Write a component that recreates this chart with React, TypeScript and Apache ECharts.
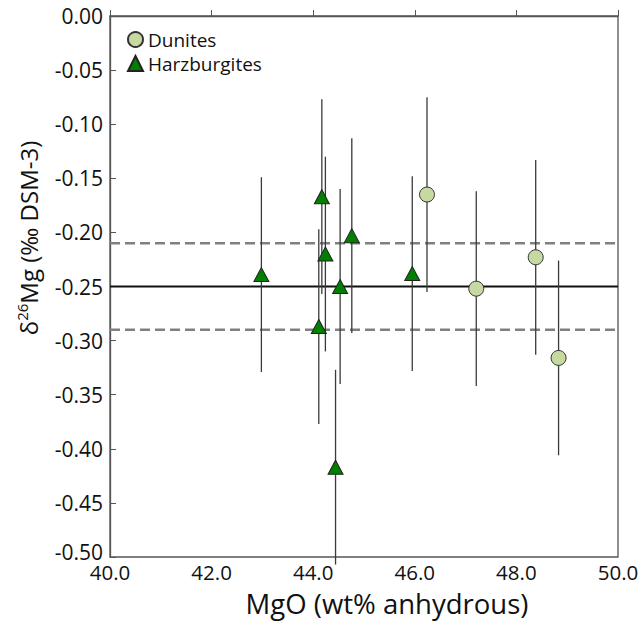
import React, { useEffect, useRef } from "react";
import * as echarts from "echarts";

const dunMgO = [46.24, 47.21, 48.38, 48.83];
const dunD26 = [-0.165, -0.252, -0.223, -0.316];
const dunErr = [0.09, 0.09, 0.09, 0.09];

const harzMgO = [42.98, 44.17, 44.24, 44.11, 44.53, 44.76, 44.44, 45.95];
const harzD26 = [-0.239, -0.167, -0.22, -0.287, -0.25, -0.203, -0.417, -0.238];
const harzErr = [0.09, 0.09, 0.09, 0.09, 0.09, 0.09, 0.09, 0.09];

const meanD26 = -0.25;
const upperD26 = -0.21;
const lowerD26 = -0.29;
const xRange = [40, 50];

const FONT = "'Open Sans', 'Noto Sans', sans-serif";

export default function App() {
  const ref = useRef<HTMLDivElement>(null);
  useEffect(() => {
    if (!ref.current) return;
    const chart = echarts.init(ref.current, undefined, { renderer: "svg" });
    const errData = [
      ...dunMgO.map((x, i) => [x, dunD26[i] - dunErr[i], dunD26[i] + dunErr[i]]),
      ...harzMgO.map((x, i) => [x, harzD26[i] - harzErr[i], harzD26[i] + harzErr[i]]),
    ];
    const hline = (y: number) => xRange.map((x) => [x, y]);
    chart.setOption({
      animation: false,
      textStyle: { fontFamily: FONT },
      grid: {
        left: 110,
        right: 25,
        top: 16,
        bottom: 68,
        show: true,
        borderColor: "#555",
        borderWidth: 1.3,
        backgroundColor: "transparent",
      },
      legend: {
        orient: "vertical",
        left: 127,
        top: 30,
        padding: 0,
        itemGap: 5,
        itemWidth: 15,
        itemHeight: 15,
        textStyle: { fontSize: 19, color: "#111", fontFamily: FONT },
        data: ["Dunites", "Harzburgites"],
      },
      xAxis: {
        type: "value",
        min: 40,
        max: 50,
        interval: 2,
        axisLine: { show: true, lineStyle: { color: "#555", width: 1.3 } },
        axisTick: { show: true, inside: true, length: 6, lineStyle: { color: "#555" } },
        splitLine: { show: false },
        axisLabel: {
          fontSize: 20.5,
          lineHeight: 16,
          color: "#111",
          margin: 7,
          fontFamily: FONT,
          formatter: (v: number) => v.toFixed(1),
        },
      },
      yAxis: {
        type: "value",
        min: -0.5,
        max: 0,
        interval: 0.05,
        axisLine: { show: true, lineStyle: { color: "#555", width: 1.3 } },
        axisTick: { show: true, inside: true, length: 6, lineStyle: { color: "#555" } },
        splitLine: { show: false },
        axisLabel: {
          fontSize: 21,
          lineHeight: 16,
          color: "#111",
          margin: 7,
          fontFamily: FONT,
          formatter: (v: number) => {
            if (Math.abs(v) < 1e-9) return "0.00";
            if (Math.abs(v + 0.5) < 1e-9) return "{lo|" + v.toFixed(2) + "}";
            return v.toFixed(2);
          },
          rich: {
            lo: {
              fontSize: 21,
              lineHeight: 16,
              color: "#111",
              fontFamily: FONT,
              padding: [0, 0, 10, 0],
            },
          },
        },
      },
      series: [
        {
          type: "line",
          data: hline(upperD26),
          symbol: "none",
          silent: true,
          lineStyle: { color: "#808080", width: 2.5, type: [10, 5] },
          z: 1,
        },
        {
          type: "line",
          data: hline(lowerD26),
          symbol: "none",
          silent: true,
          lineStyle: { color: "#808080", width: 2.5, type: [10, 5] },
          z: 1,
        },
        {
          type: "line",
          data: hline(meanD26),
          symbol: "none",
          silent: true,
          lineStyle: { color: "#111", width: 2 },
          z: 1,
        },
        {
          type: "custom",
          clip: false,
          silent: true,
          z: 2,
          data: errData,
          renderItem: (params: any, api: any) => {
            const p1 = api.coord([api.value(0), api.value(1)]);
            const p2 = api.coord([api.value(0), api.value(2)]);
            return {
              type: "line",
              shape: { x1: p1[0], y1: p1[1], x2: p2[0], y2: p2[1] },
              style: { stroke: "#3a3a3a", lineWidth: 1.3 },
            };
          },
        },
        {
          name: "Dunites",
          type: "scatter",
          symbol: "circle",
          symbolSize: 15,
          z: 3,
          itemStyle: { color: "#c5d9a1", borderColor: "#333", borderWidth: 1, opacity: 1 },
          data: dunMgO.map((x, i) => [x, dunD26[i]]),
        },
        {
          name: "Harzburgites",
          type: "scatter",
          symbol: "triangle",
          symbolSize: [15, 14],
          z: 3,
          itemStyle: { color: "#008000", borderColor: "#222", borderWidth: 1, opacity: 1 },
          data: harzMgO.map((x, i) => [x, harzD26[i]]),
        },
      ],
      graphic: [
        {
          type: "text",
          x: 387,
          y: 603,
          style: {
            text: "MgO (wt% anhydrous)",
            fontSize: 27.5,
            lineHeight: 24,
            fontFamily: FONT,
            fill: "#111",
            align: "center",
            verticalAlign: "middle",
          },
        },
        {
          type: "text",
          x: 28,
          y: 238,
          rotation: Math.PI / 2,
          style: {
            text: "{a|δ}{s|26}{a|Mg (‰ DSM-3)}",
            fontFamily: FONT,
            fill: "#111",
            align: "center",
            verticalAlign: "middle",
            rich: {
              a: { fontSize: 24, fontFamily: FONT, lineHeight: 28, fill: "#111" },
              s: { fontSize: 15, fontFamily: FONT, lineHeight: 28, verticalAlign: "top", fill: "#111" },
            },
          },
        },
      ],
    });
    return () => chart.dispose();
  }, []);
  return (
    <div
      ref={ref}
      style={{ position: "fixed", left: 0, top: 0, width: 643, height: 625, background: "#fff" }}
    />
  );
}
